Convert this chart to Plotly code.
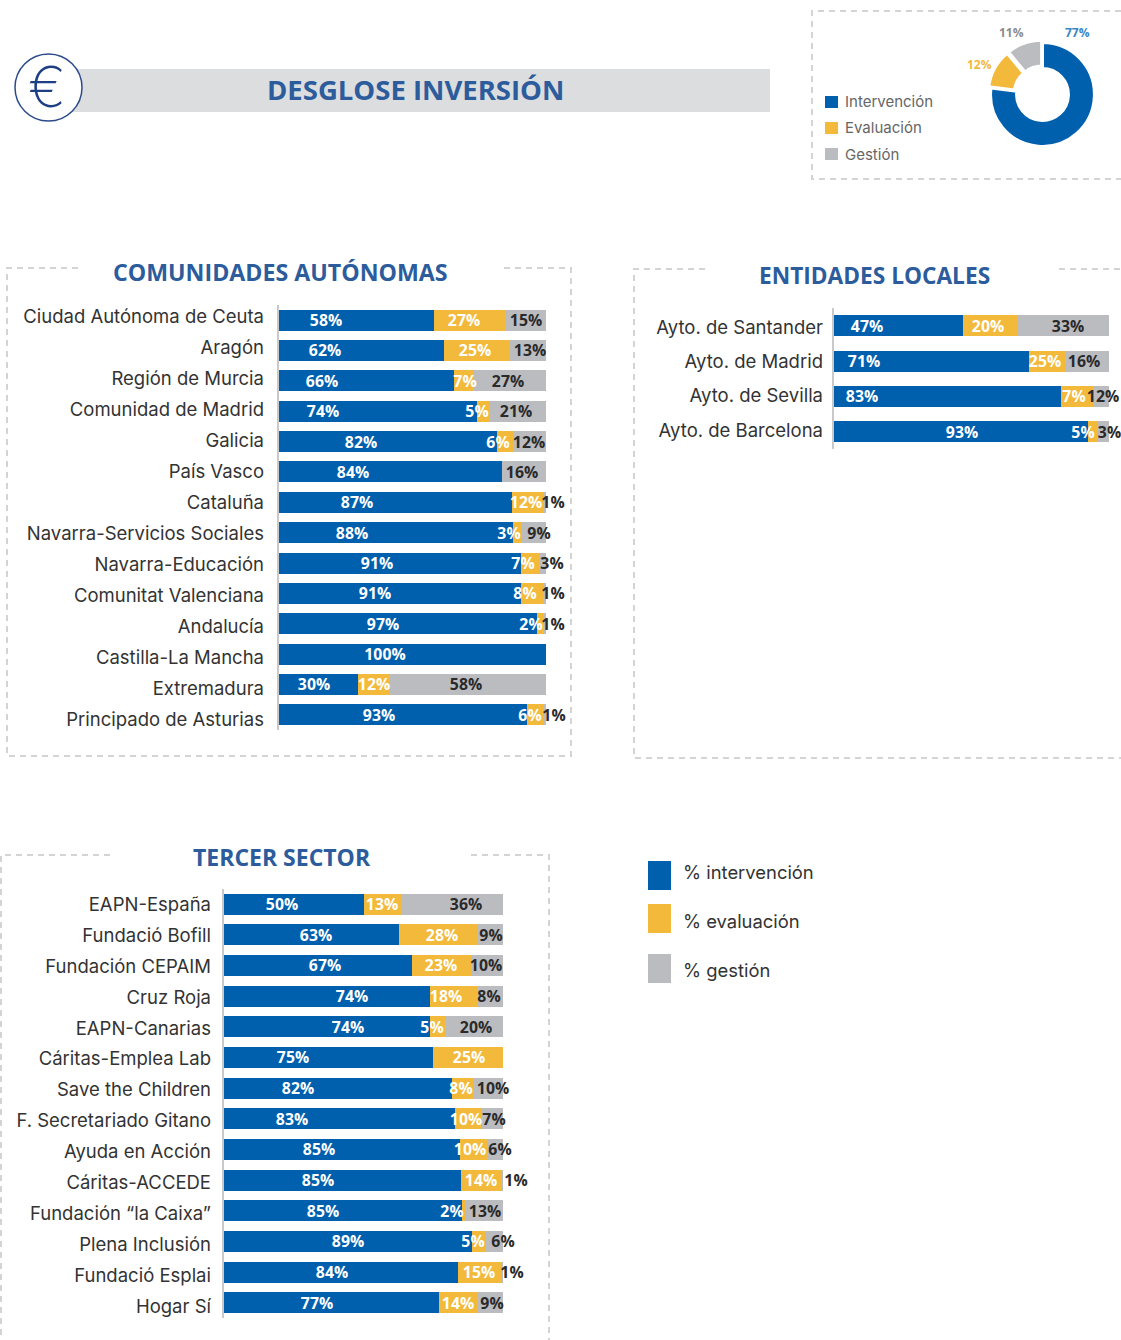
import plotly.graph_objects as go

W, H = 1121, 1340
BLUE, YELLOW, GRAY = "#0060AE", "#F2B93B", "#BBBCC0"
TITLE = "#2C5C9C"

# ---------- data ----------
ca_cats = ["Ciudad Autónoma de Ceuta", "Aragón", "Región de Murcia", "Comunidad de Madrid", "Galicia",
           "País Vasco", "Cataluña", "Navarra-Servicios Sociales", "Navarra-Educación", "Comunitat Valenciana",
           "Andalucía", "Castilla-La Mancha", "Extremadura", "Principado de Asturias"]
ca_interv = [58, 61.9, 65.5, 74.2, 81.8, 83.6, 87.4, 87.6, 90.6, 90.6, 96.6, 100, 29.6, 92.9]
ca_eval = [27.2, 24.8, 7.2, 4.7, 6.1, 0, 11.6, 3.4, 6.8, 9, 3, 0, 12, 6]
ca_gest = [14.8, 13.3, 27.3, 21.1, 12.1, 16.4, 1, 9, 2.6, 0.4, 0.4, 0, 58.4, 1.1]
ca_lab_i = ["58%", "62%", "66%", "74%", "82%", "84%", "87%", "88%", "91%", "91%", "97%", "100%", "30%", "93%"]
ca_lab_e = ["27%", "25%", "7%", "5%", "6%", None, "12%", "3%", "7%", "8%", "2%", None, "12%", "6%"]
ca_lab_g = ["15%", "13%", "27%", "21%", "12%", "16%", "1%", "9%", "3%", "1%", "1%", None, "58%", "1%"]

el_cats = ["Ayto. de Santander", "Ayto. de Madrid", "Ayto. de Sevilla", "Ayto. de Barcelona"]
el_interv = [46.8, 71, 82.5, 92.4]
el_eval = [19.7, 13, 12, 3.2]
el_gest = [33.5, 16, 5.5, 4.4]
el_lab_i = ["47%", "71%", "83%", "93%"]
el_lab_e = ["20%", "25%", "7%", "5%"]
el_lab_g = ["33%", "16%", "12%", "3%"]

ts_cats = ["EAPN-España", "Fundació Bofill", "Fundación CEPAIM", "Cruz Roja", "EAPN-Canarias", "Cáritas-Emplea Lab",
           "Save the Children", "F. Secretariado Gitano", "Ayuda en Acción", "Cáritas-ACCEDE", "Fundación “la Caixa”",
           "Plena Inclusión", "Fundació Esplai", "Hogar Sí"]
ts_interv = [50.2, 62.7, 67.4, 73.8, 74, 75, 81.7, 82.7, 84.5, 84.8, 85.2, 88.9, 84, 76.9]
ts_eval = [13.2, 28.3, 21.5, 17.2, 5.6, 25, 7.9, 9.9, 9.7, 14.7, 1.6, 5, 15.2, 14]
ts_gest = [36.6, 9, 11.1, 9, 20.4, 0, 10.4, 7.4, 5.8, 0.5, 13.2, 6.1, 0.8, 9.1]
ts_lab_i = ["50%", "63%", "67%", "74%", "74%", "75%", "82%", "83%", "85%", "85%", "85%", "89%", "84%", "77%"]
ts_lab_e = ["13%", "28%", "23%", "18%", "5%", "25%", "8%", "10%", "10%", "14%", "2%", "5%", "15%", "14%"]
ts_lab_g = ["36%", "9%", "10%", "8%", "20%", None, "10%", "7%", "6%", "1%", "13%", "6%", "1%", "9%"]

donut_labels = ["Intervención", "Evaluación", "Gestión"]
donut_values = [77, 12, 11]
legend_labels = ["% intervención", "% evaluación", "% gestión"]

# label anchor positions, page pixels along the bar axis
ca_px_i = [326, 325, 322, 323, 361, 353, 357, 352, 377, 375, 383, 385, 314, 379]
ca_px_e = [464, 475, 465, 477, 498, 0, 526, 509, 523, 525, 531, 0, 374, 530]
ca_px_g = [526, 530, 508, 516, 529, 522, 553, 539, 552, 553, 553, 0, 466, 554]
el_px_i = [867, 864, 862, 962]
el_px_e = [988, 1045, 1074, 1083]
el_px_g = [1068, 1084, 1103, 1109.5]
ts_px_i = [282, 316, 325, 352, 348, 293, 298, 292, 319, 318, 323, 348, 332, 317]
ts_px_e = [382, 442, 441, 446, 432, 469, 461, 466, 470, 481, 452, 473, 479, 458]
ts_px_g = [466, 491, 486, 489, 476, 0, 493, 494, 500, 516, 485, 503, 512, 492]

# ---------- helpers ----------
def X(p): return p / W
def Y(p): return 1 - p / H

fig = go.Figure()
layout = {}
LABEL_FONT = "Open Sans"
CAT_FONT = "Inter"
LABEL_DROP = 2  # value labels sit this many pixels below the bar centres

def panel(k, cats, vals, labs, pxs, x0, x1, x_end, bar_dom, lab_dom, standoff, cat_size):
    n = len(cats)
    xa, ya, yb, yc = f"x{k}", f"y{3*k-2}", f"y{3*k-1}", f"y{3*k}"
    step = (bar_dom[1] - bar_dom[0]) / n
    for v, c, name in zip(vals, (BLUE, YELLOW, GRAY), ("% intervención", "% evaluación", "% gestión")):
        fig.add_trace(go.Bar(y=cats, x=v, orientation="h", xaxis=xa, yaxis=ya, name=name,
                             marker=dict(color=c, line=dict(width=0)), width=21 / step,
                             showlegend=False, hoverinfo="x+y"))
    for lab, px, col in zip(labs, pxs, ("white", "white", "#2A2A2A")):
        fig.add_trace(go.Scatter(y=cats, x=[(p - x0) / (x1 - x0) * 100 for p in px], mode="text", text=lab,
                                 textposition="middle center", xaxis=xa, yaxis=yc, cliponaxis=False,
                                 textfont=dict(family=LABEL_FONT, size=15.8, color=col, weight=700),
                                 showlegend=False, hoverinfo="skip"))
    fig.add_trace(go.Scatter(y=cats, x=[0] * n, mode="markers", marker=dict(opacity=0), xaxis=xa, yaxis=yb,
                             showlegend=False, hoverinfo="skip"))
    # the axis runs past 100 so the labels that sit beyond the end of a bar are kept
    layout[f"xaxis{k}"] = dict(domain=[X(x0), X(x_end)], range=[0, (x_end - x0) / (x1 - x0) * 100], anchor=ya,
                               showgrid=False, zeroline=False, showticklabels=False, ticks="", showline=False)
    base = dict(range=[n - 0.5, -0.5], anchor=xa, type="category", categoryorder="array", categoryarray=cats,
                showgrid=False, zeroline=False, ticks="")
    layout[f"yaxis{3*k-2}"] = dict(domain=[Y(bar_dom[1]), Y(bar_dom[0])], showticklabels=False,
                                   showline=True, linecolor="#C9C9C9", linewidth=2, **base)
    layout[f"yaxis{3*k-1}"] = dict(domain=[Y(lab_dom[1]), Y(lab_dom[0])], showline=False, ticklabelstandoff=standoff,
                                   tickfont=dict(family=CAT_FONT, size=cat_size, color="#333333"), **base)
    layout[f"yaxis{3*k}"] = dict(domain=[Y(bar_dom[1] + LABEL_DROP), Y(bar_dom[0] + LABEL_DROP)],
                                 showticklabels=False, showline=False, **base)

panel(1, ca_cats, (ca_interv, ca_eval, ca_gest), (ca_lab_i, ca_lab_e, ca_lab_g), (ca_px_i, ca_px_e, ca_px_g),
      279, 546, 585, (305, 730), (301, 735), 14, 18.5)
panel(2, el_cats, (el_interv, el_eval, el_gest), (el_lab_i, el_lab_e, el_lab_g), (el_px_i, el_px_e, el_px_g),
      834, 1109, 1121, (308.4, 449.2), (310, 447.5), 10, 18.5)
panel(3, ts_cats, (ts_interv, ts_eval, ts_gest), (ts_lab_i, ts_lab_e, ts_lab_g), (ts_px_i, ts_px_e, ts_px_g),
      224, 503, 540, (888.7, 1318), (889, 1321.5), 12, 18.5)

fig.add_trace(go.Pie(values=donut_values, labels=donut_labels, hole=0.5, sort=False, direction="clockwise",
                     rotation=0, pull=[0, 0.05, 0.05], textinfo="none", showlegend=False,
                     marker=dict(colors=[BLUE, YELLOW, GRAY], line=dict(color="white", width=3)),
                     domain=dict(x=[X(988), X(1097)], y=[Y(149), Y(40)])))

# ---------- decorations ----------
def dash(path):
    return dict(type="path", path=path, xref="paper", yref="paper",
                line=dict(color="#D4D4D4", width=2, dash="6px,5px"))

def P(*pts):
    return "M" + " L".join(f"{X(a):.5f},{Y(b):.5f}" for a, b in pts)

shapes = [
    dash(P((78, 268), (7, 268), (7, 756), (571, 756), (571, 268), (504, 268))),
    dash(P((705, 269), (634, 269), (634, 758), (1121, 758))),
    dash(P((1059, 269), (1121, 269))),
    dash(P((110, 855), (1, 855), (1, 1340))),
    dash(P((471, 855), (549, 855), (549, 1340))),
    dash(P((1121, 11), (812, 11), (812, 179), (1121, 179))),
    dict(type="rect", xref="paper", yref="paper", x0=X(70), x1=X(770), y0=Y(112), y1=Y(69),
         fillcolor="#DCDDDF", line=dict(width=0)),
    dict(type="circle", xref="paper", yref="paper", x0=X(15), x1=X(82), y0=Y(121), y1=Y(54),
         fillcolor="white", line=dict(color="#2B4A8B", width=1.5)),
]
for (a, b), c in zip(((96, 108), (122, 134), (148, 160)), (BLUE, YELLOW, GRAY)):
    shapes.append(dict(type="rect", xref="paper", yref="paper", x0=X(825), x1=X(838), y0=Y(b), y1=Y(a),
                       fillcolor=c, line=dict(width=0)))
for (a, b), c in zip(((861, 890), (904, 933), (954, 983)), (BLUE, YELLOW, GRAY)):
    shapes.append(dict(type="rect", xref="paper", yref="paper", x0=X(648), x1=X(671), y0=Y(b), y1=Y(a),
                       fillcolor=c, line=dict(width=0)))

def note(text, x, y, size, color, family="Open Sans", weight=400, anchor="center"):
    return dict(text=text, x=X(x), y=Y(y), xref="paper", yref="paper", xanchor=anchor, yanchor="middle",
                showarrow=False, font=dict(family=family, size=size, color=color, weight=weight))

annotations = [
    note("€", 47, 87, 56, "#1F3F85", family="Inter", weight=200),
    note("DESGLOSE INVERSIÓN", 415, 90, 27.5, TITLE, weight=700),
    note("COMUNIDADES AUTÓNOMAS", 280, 272, 23.2, TITLE, weight=700),
    note("ENTIDADES LOCALES", 874, 275.5, 22.7, TITLE, weight=700),
    note("TERCER SECTOR", 282, 857, 23, TITLE, weight=700),
    note("77%", 1077, 33, 12, "#3A86C4", weight=700),
    note("12%", 979, 65, 12, YELLOW, weight=700),
    note("11%", 1011, 33, 12, "#8C8C8C", weight=700),
]
for lab, y in zip(donut_labels, (102, 128, 154)):
    annotations.append(note(lab, 843, y, 15, "#666666", family="Inter", anchor="left"))
for lab, y in zip(legend_labels, (872, 921, 970)):
    annotations.append(note(lab, 681, y, 18.4, "#333333", family=CAT_FONT, anchor="left"))

fig.update_layout(width=W, height=H, autosize=False, margin=dict(l=0, r=0, t=0, b=0), paper_bgcolor="white",
                  plot_bgcolor="rgba(0,0,0,0)", barmode="stack", showlegend=False, shapes=shapes,
                  annotations=annotations, **layout)
for s in fig.layout.shapes:
    s.layer = "below"

fig.write_html("out.html", config=dict(displayModeBar=False),
               post_script="document.body.style.margin='0';document.body.style.overflow='hidden';")
